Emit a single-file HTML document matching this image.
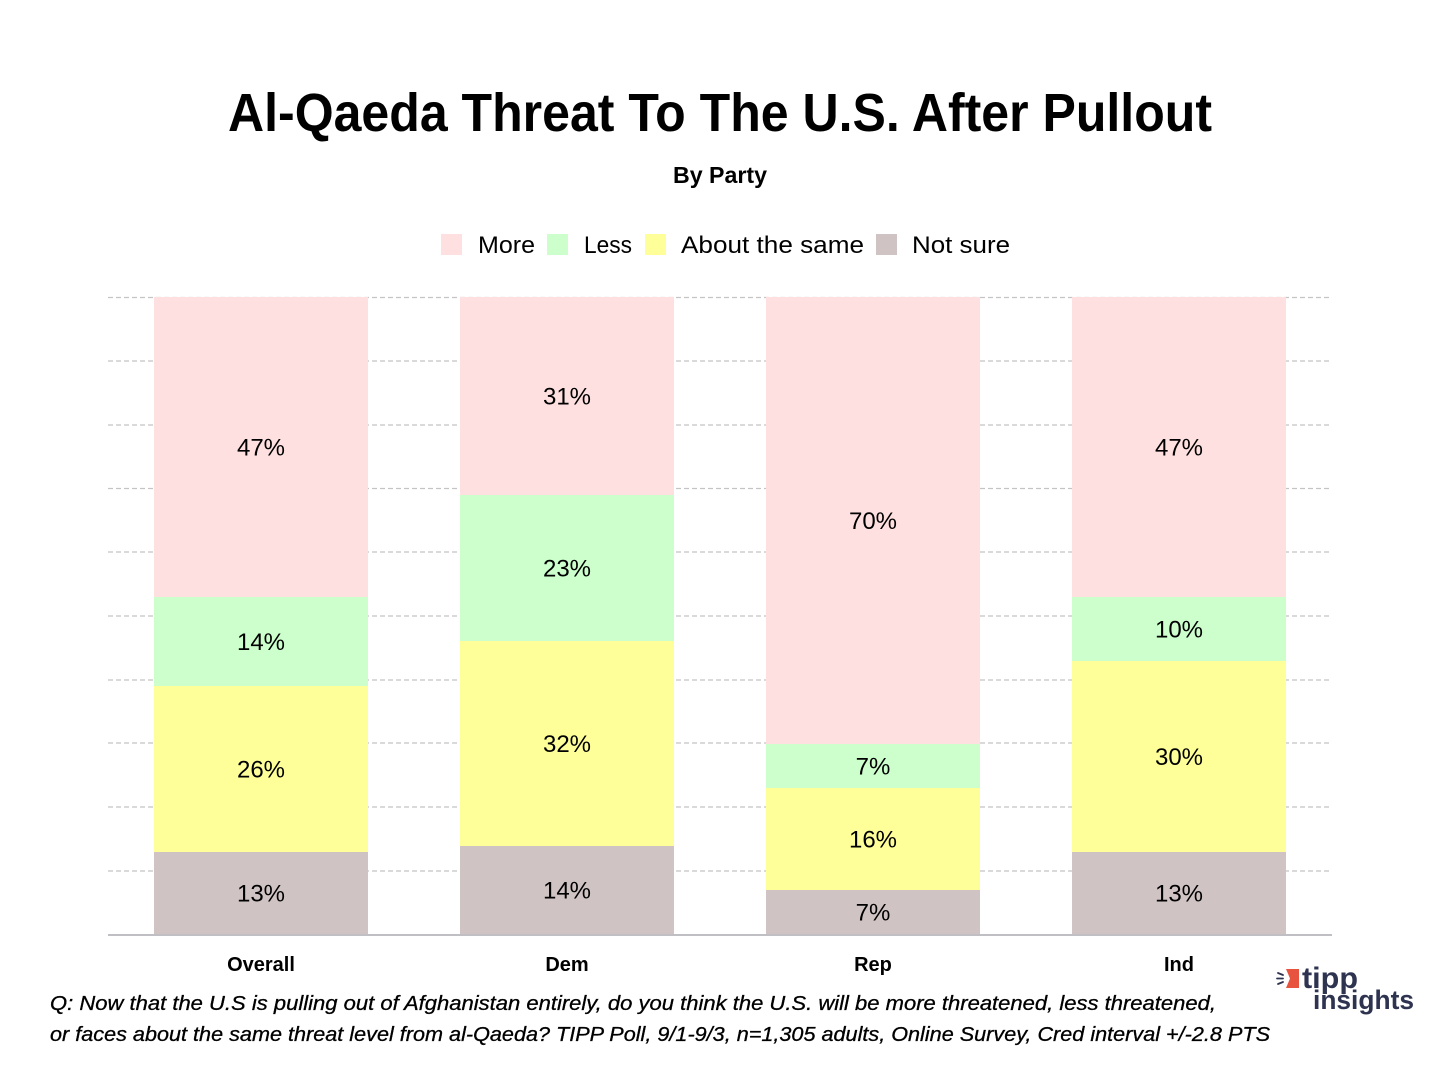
<!DOCTYPE html>
<html>
<head>
<meta charset="utf-8">
<style>
  html, body { margin: 0; padding: 0; background: #ffffff; }
  svg { display: block; }
  text { font-family: "Liberation Sans", sans-serif; fill: #000; }
</style>
</head>
<body>
<svg width="1440" height="1080" viewBox="0 0 1440 1080" xmlns="http://www.w3.org/2000/svg">
  <rect x="0" y="0" width="1440" height="1080" fill="#ffffff"/>

  <!-- Title -->
  <text x="228" y="131" font-size="54" font-weight="bold" textLength="984" lengthAdjust="spacingAndGlyphs">Al-Qaeda Threat To The U.S. After Pullout</text>
  <text x="673" y="183" font-size="23" font-weight="bold" textLength="94" lengthAdjust="spacingAndGlyphs">By Party</text>

  <!-- Legend -->
  <rect x="441" y="234" width="21" height="21" fill="#ffe0e0"/>
  <text x="478" y="253" font-size="24" textLength="57" lengthAdjust="spacingAndGlyphs">More</text>
  <rect x="547" y="234" width="21" height="21" fill="#ccffcc"/>
  <text x="584" y="253" font-size="24" textLength="48" lengthAdjust="spacingAndGlyphs">Less</text>
  <rect x="645" y="234" width="21" height="21" fill="#ffff99"/>
  <text x="681" y="253" font-size="24" textLength="183" lengthAdjust="spacingAndGlyphs">About the same</text>
  <rect x="876" y="234" width="21" height="21" fill="#d0c3c3"/>
  <text x="912" y="253" font-size="24" textLength="98" lengthAdjust="spacingAndGlyphs">Not sure</text>

  <!-- Gridlines -->
  <g stroke="#c4c4c4" stroke-width="1.2" stroke-dasharray="5,3">
    <line x1="108" y1="297.5" x2="1330" y2="297.5"/>
    <line x1="108" y1="361" x2="1330" y2="361"/>
    <line x1="108" y1="425" x2="1330" y2="425"/>
    <line x1="108" y1="488.5" x2="1330" y2="488.5"/>
    <line x1="108" y1="552" x2="1330" y2="552"/>
    <line x1="108" y1="616" x2="1330" y2="616"/>
    <line x1="108" y1="680" x2="1330" y2="680"/>
    <line x1="108" y1="743" x2="1330" y2="743"/>
    <line x1="108" y1="807" x2="1330" y2="807"/>
    <line x1="108" y1="871" x2="1330" y2="871"/>
  </g>

  <!-- Bars: Overall -->
  <rect x="154" y="297" width="214" height="300" fill="#ffe0e0"/>
  <rect x="154" y="597" width="214" height="89" fill="#ccffcc"/>
  <rect x="154" y="686" width="214" height="166" fill="#ffff99"/>
  <rect x="154" y="852" width="214" height="82" fill="#d0c3c3"/>

  <!-- Dem -->
  <rect x="460" y="297" width="214" height="198" fill="#ffe0e0"/>
  <rect x="460" y="495" width="214" height="146" fill="#ccffcc"/>
  <rect x="460" y="641" width="214" height="205" fill="#ffff99"/>
  <rect x="460" y="846" width="214" height="88" fill="#d0c3c3"/>

  <!-- Rep -->
  <rect x="766" y="297" width="214" height="447" fill="#ffe0e0"/>
  <rect x="766" y="744" width="214" height="44" fill="#ccffcc"/>
  <rect x="766" y="788" width="214" height="102" fill="#ffff99"/>
  <rect x="766" y="890" width="214" height="44" fill="#d0c3c3"/>

  <!-- Ind -->
  <rect x="1072" y="297" width="214" height="300" fill="#ffe0e0"/>
  <rect x="1072" y="597" width="214" height="64" fill="#ccffcc"/>
  <rect x="1072" y="661" width="214" height="191" fill="#ffff99"/>
  <rect x="1072" y="852" width="214" height="82" fill="#d0c3c3"/>

  <!-- Baseline -->
  <rect x="108" y="934" width="1224" height="2" fill="#c0c0c4"/>

  <!-- Data labels -->
  <g font-size="24" text-anchor="middle">
    <text x="261" y="455.5">47%</text>
    <text x="261" y="650">14%</text>
    <text x="261" y="777.5">26%</text>
    <text x="261" y="901.5">13%</text>

    <text x="567" y="404.5">31%</text>
    <text x="567" y="576.5">23%</text>
    <text x="567" y="752">32%</text>
    <text x="567" y="898.5">14%</text>

    <text x="873" y="529">70%</text>
    <text x="873" y="774.5">7%</text>
    <text x="873" y="847.5">16%</text>
    <text x="873" y="920.5">7%</text>

    <text x="1179" y="455.5">47%</text>
    <text x="1179" y="637.5">10%</text>
    <text x="1179" y="765">30%</text>
    <text x="1179" y="901.5">13%</text>
  </g>

  <!-- X axis labels -->
  <g font-size="20" font-weight="bold" text-anchor="middle">
    <text x="261" y="971">Overall</text>
    <text x="567" y="971">Dem</text>
    <text x="873" y="971">Rep</text>
    <text x="1179" y="971">Ind</text>
  </g>

  <!-- Footnote -->
  <text x="50" y="1010" font-size="20" font-style="italic" stroke="#000" stroke-width="0.3" textLength="1166" lengthAdjust="spacingAndGlyphs">Q:  Now that the U.S is pulling out of Afghanistan entirely, do you think the U.S. will be more threatened, less threatened,</text>
  <text x="50" y="1041" font-size="20" font-style="italic" stroke="#000" stroke-width="0.3" textLength="1220" lengthAdjust="spacingAndGlyphs">or faces about the same threat level from al-Qaeda? TIPP Poll, 9/1-9/3, n=1,305 adults, Online Survey, Cred interval +/-2.8 PTS</text>

  <!-- Logo -->
  <g>
    <polygon points="1286,969 1299,969 1299,988 1286,988 1290,978.5" fill="#e8533f"/>
    <g stroke="#2e3350" stroke-width="1.8" stroke-linecap="round">
      <line x1="1278" y1="973" x2="1283" y2="975"/>
      <line x1="1277" y1="978.5" x2="1283" y2="978.5"/>
      <line x1="1278" y1="984" x2="1283" y2="982"/>
    </g>
    <text x="1302" y="988" font-size="30" font-weight="bold" style="fill:#2e3350" textLength="56" lengthAdjust="spacingAndGlyphs">tipp</text>
    <text x="1313" y="1009" font-size="27" font-weight="bold" style="fill:#2e3350" textLength="101" lengthAdjust="spacingAndGlyphs">insights</text>
  </g>
</svg>
</body>
</html>
